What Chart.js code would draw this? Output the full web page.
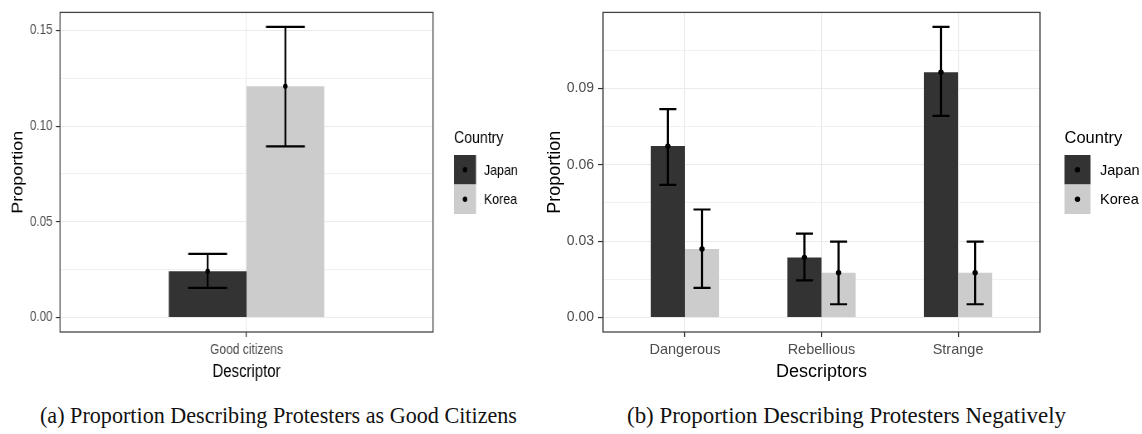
<!DOCTYPE html>
<html>
<head>
<meta charset="utf-8">
<script src="https://cdn.jsdelivr.net/npm/chart.js@4.4.1/dist/chart.umd.min.js"></script>
<style>
  html, body { margin: 0; padding: 0; background: #fff; width: 1142px; height: 434px; overflow: hidden; position: relative; }
  .panel { position: absolute; top: 0; transform-origin: left top; }
  .caption { position: absolute; top: 403px; font-family: 'Liberation Serif', 'Times New Roman', serif; font-size: 23px; line-height: 26px; color: #111; white-space: nowrap; transform-origin: left center; }
</style>
</head>
<body>
<!-- panel (a) is drawn wide and squeezed horizontally into its 540px column -->
<div class="panel" id="panelA" style="left:0"><canvas id="good" width="651" height="390"></canvas></div>
<div class="panel" style="left:540px"><canvas id="neg" width="602" height="390"></canvas></div>
<div class="caption" data-left="40" data-width="477">(a) Proportion Describing Protesters as Good Citizens</div>
<div class="caption" data-left="627" data-width="439">(b) Proportion Describing Protesters Negatively</div>
<script>
// ---- data ----
const countries = ['Japan', 'Korea'];
const countryFills = ['#333333', '#cccccc'];
const legendTitle = 'Country';
const yTitle = 'Proportion';

// (a) good citizens
const goodCategories = ['Good citizens'];
const goodJapan = [0.0242];
const goodJapanLow = [0.0155];
const goodJapanHigh = [0.0332];
const goodKorea = [0.1208];
const goodKoreaLow = [0.0894];
const goodKoreaHigh = [0.1518];
const goodTickValues = [0, 0.05, 0.10, 0.15];
const goodTickLabels = ['0.00', '0.05', '0.10', '0.15'];
const goodMinorTicks = [0.025, 0.075, 0.125];

// (b) negative descriptors
const negCategories = ['Dangerous', 'Rebellious', 'Strange'];
const negJapan = [0.0673, 0.0236, 0.0963];
const negJapanLow = [0.0521, 0.0146, 0.0792];
const negJapanHigh = [0.0818, 0.0329, 0.1141];
const negKorea = [0.0269, 0.0176, 0.0176];
const negKoreaLow = [0.0116, 0.0052, 0.0052];
const negKoreaHigh = [0.0424, 0.0298, 0.0298];
const negTickValues = [0, 0.03, 0.06, 0.09];
const negTickLabels = ['0.00', '0.03', '0.06', '0.09'];
const negMinorTicks = [0.015, 0.045, 0.075, 0.105];

// ---- plugins ----
const errorBarPlugin = {
  id: 'errorBars',
  afterDatasetsDraw(chart) {
    const ctx = chart.ctx, y = chart.scales.y;
    ctx.save();
    chart.data.datasets.forEach((ds, d) => {
      chart.getDatasetMeta(d).data.forEach((bar, i) => {
        const x = bar.x, half = bar.width / 4;
        const yl = y.getPixelForValue(ds.low[i]);
        const yh = y.getPixelForValue(ds.high[i]);
        ctx.strokeStyle = '#000';
        ctx.lineWidth = 2.2;
        ctx.beginPath();
        ctx.moveTo(x, yl); ctx.lineTo(x, yh);
        ctx.moveTo(x - half, yl); ctx.lineTo(x + half, yl);
        ctx.moveTo(x - half, yh); ctx.lineTo(x + half, yh);
        ctx.stroke();
        ctx.fillStyle = '#000';
        ctx.beginPath();
        ctx.arc(x, y.getPixelForValue(ds.data[i].y), 2.7, 0, Math.PI * 2);
        ctx.fill();
      });
    });
    ctx.restore();
  }
};

const panelBorderPlugin = {
  id: 'panelBorder',
  afterDatasetsDraw(chart) {
    const {ctx, chartArea: a} = chart;
    ctx.save();
    ctx.strokeStyle = '#444';
    ctx.lineWidth = 1.3;
    ctx.strokeRect(a.left, a.top, a.right - a.left, a.bottom - a.top);
    ctx.restore();
  }
};

const countryKeyPlugin = {
  id: 'countryKey',
  afterDraw(chart, args, k) {
    const ctx = chart.ctx;
    ctx.save();
    ctx.textBaseline = 'middle';
    ctx.textAlign = 'left';
    ctx.fillStyle = '#000';
    ctx.font = k.titleSize + 'px ' + k.font;
    ctx.fillText(legendTitle, k.x, k.titleY);
    countries.forEach((c, d) => {
      const top = k.y + d * k.h;
      ctx.fillStyle = countryFills[d];
      ctx.fillRect(k.x, top, k.w, k.h);
      ctx.fillStyle = '#000';
      ctx.beginPath();
      ctx.arc(k.x + k.w / 2, top + k.h / 2, 2.7, 0, Math.PI * 2);
      ctx.fill();
      ctx.font = k.labelSize + 'px ' + k.font;
      ctx.fillText(c, k.labelX, top + k.h / 2 + 1);
    });
    ctx.restore();
  }
};

// ---- chart builder ----
function buildChart(id, o) {
  const n = o.categories.length;
  const top = Math.max(...o.high.flat());
  const yMin = -0.05 * top, yMax = top * 1.05;   // 5% padding around the data range
  const allTicks = o.tickValues.concat(o.minorTicks).sort((a, b) => a - b);
  const majorIndex = v => o.tickValues.findIndex(t => Math.abs(t - v) < 1e-9);
  const isMajor = c => c.tick && majorIndex(c.tick.value) >= 0;

  const datasets = countries.map((c, d) => ({
    label: c,
    data: o.values[d].map((v, i) => ({x: i + 1, y: v})),
    low: o.low[d],
    high: o.high[d],
    backgroundColor: countryFills[d],
    borderWidth: 0,
    categoryPercentage: o.groupShare,
    barPercentage: 1
  }));

  return new Chart(document.getElementById(id), {
    type: 'bar',
    data: {datasets},
    options: {
      responsive: false,
      animation: false,
      events: [],
      layout: {padding: {left: 0, top: o.area.top, right: o.area.right, bottom: 0}},
      plugins: {
        legend: {display: false},
        tooltip: {enabled: false},
        countryKey: o.key
      },
      scales: {
        x: {
          type: 'linear',
          offset: false,
          min: 0.4,
          max: n + 0.6,
          afterBuildTicks: s => { s.ticks = o.categories.map((_, i) => ({value: i + 1})); },
          afterFit: s => { s.height = o.area.xHeight; },
          ticks: {
            autoSkip: false, maxRotation: 0, padding: 4, color: '#4d4d4d',
            font: {family: o.font, size: o.catSize},
            callback: v => o.categories[Math.round(v) - 1]
          },
          grid: {offset: false, color: '#ebebeb', lineWidth: 1.1, tickLength: 5, tickColor: '#333', tickWidth: 1.2},
          border: {display: false},
          title: {
            display: true, text: o.xTitle, color: '#000',
            font: {family: o.font, size: o.titleSize},
            padding: {top: 0, bottom: o.xTitlePad}
          }
        },
        y: {
          min: yMin,
          max: yMax,
          afterBuildTicks: s => { s.ticks = allTicks.map(v => ({value: v})); },
          afterFit: s => { s.width = o.area.left; },
          ticks: {
            autoSkip: false, padding: 4, color: '#4d4d4d',
            font: {family: o.font, size: o.tickSize},
            callback: v => { const i = majorIndex(v); return i < 0 ? '' : o.tickLabels[i]; }
          },
          grid: {
            color: '#ebebeb',
            lineWidth: c => isMajor(c) ? 1.1 : 0.7,
            tickLength: 5,
            tickColor: c => isMajor(c) ? '#333' : 'rgba(0,0,0,0)',
            tickWidth: 1.2
          },
          border: {display: false},
          title: {
            display: true, text: yTitle, color: '#000',
            font: {family: o.font, size: o.titleSize},
            padding: {top: o.yTitlePad, bottom: 0}
          }
        }
      }
    },
    plugins: [errorBarPlugin, panelBorderPlugin, countryKeyPlugin]
  });
}

const sansFont = "'Liberation Sans', Arial, sans-serif";

// panel (a): canvas is 651px wide, shown at 0.83 horizontal scale
const squeezeA = 0.83;
document.getElementById('panelA').style.transform = 'scaleX(' + squeezeA + ')';

buildChart('good', {
  categories: goodCategories,
  values: [goodJapan, goodKorea],
  low: [goodJapanLow, goodKoreaLow],
  high: [goodJapanHigh, goodKoreaHigh],
  tickValues: goodTickValues, tickLabels: goodTickLabels, minorTicks: goodMinorTicks,
  groupShare: 0.5 / 1.2,
  xTitle: 'Descriptor',
  font: sansFont, tickSize: 14, catSize: 14.5, titleSize: 18,
  xTitlePad: 7.5, yTitlePad: 10.9,
  area: {left: 72.3, top: 9, right: 129.3, xHeight: 58},
  key: {font: sansFont, titleSize: 17, labelSize: 15, x: 547, y: 155, w: 26.5, h: 29.5, labelX: 583, titleY: 138.5}
});

buildChart('neg', {
  categories: negCategories,
  values: [negJapan, negKorea],
  low: [negJapanLow, negKoreaLow],
  high: [negJapanHigh, negKoreaHigh],
  tickValues: negTickValues, tickLabels: negTickLabels, minorTicks: negMinorTicks,
  groupShare: 0.5,
  xTitle: 'Descriptors',
  font: sansFont, tickSize: 14, catSize: 14.5, titleSize: 18,
  xTitlePad: 7.5, yTitlePad: 4.2,
  area: {left: 63, top: 9, right: 102, xHeight: 58},
  key: {font: sansFont, titleSize: 16.5, labelSize: 14.5, x: 524.5, y: 155, w: 26, h: 29.5, labelX: 560, titleY: 138.5}
});

// captions: serif text squeezed to its column width
document.querySelectorAll('.caption').forEach(el => {
  const w = el.getBoundingClientRect().width;
  el.style.left = el.dataset.left + 'px';
  el.style.transform = 'scaleX(' + (el.dataset.width / w) + ')';
});
</script>
</body>
</html>
